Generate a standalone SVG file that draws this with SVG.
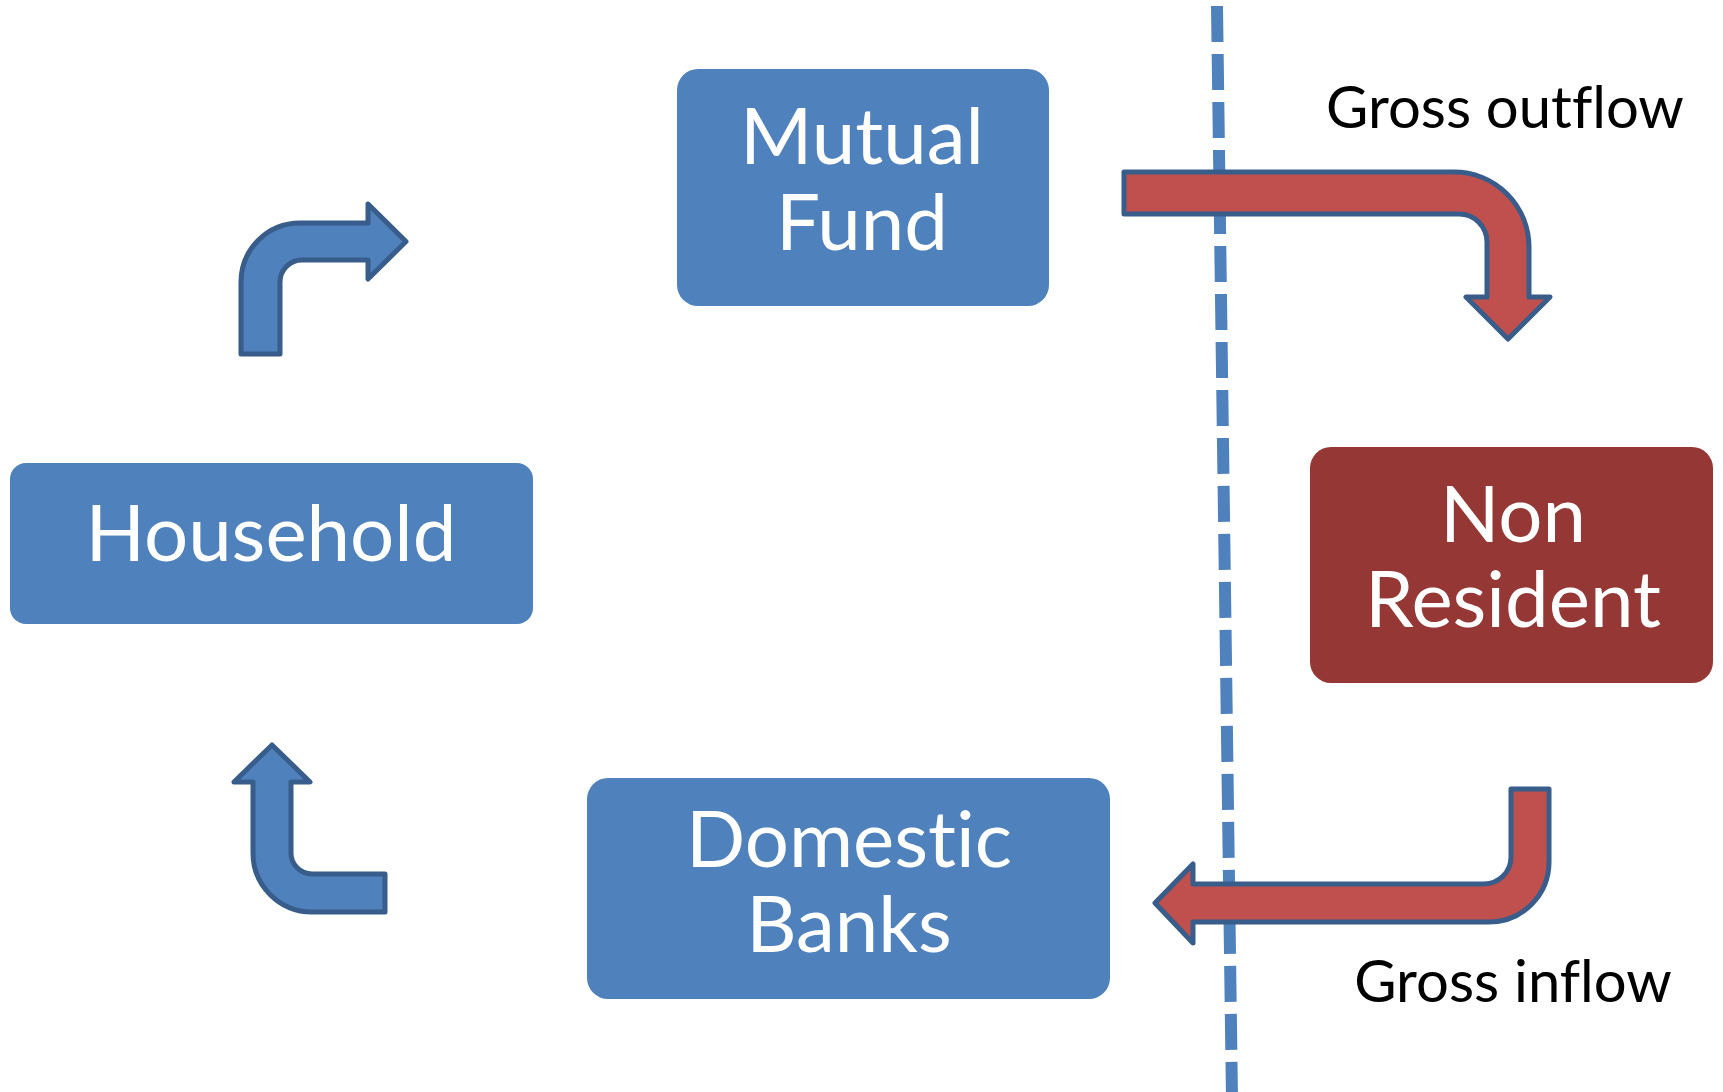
<svg xmlns="http://www.w3.org/2000/svg" width="1723" height="1092" viewBox="0 0 1723 1092">
  <style>
    .box-blue { fill: #4F81BD; }
    .box-red { fill: #953735; }
    .node-text { font-family: Lato, "Open Sans", "DejaVu Sans", sans-serif; font-size: 78px; fill: #FFFFFF; text-anchor: middle; font-variant-ligatures: none; font-feature-settings: "liga" 0, "dlig" 0; }
    .label { font-family: Lato, "Open Sans", "DejaVu Sans", sans-serif; font-size: 58px; fill: #000000; text-anchor: middle; font-variant-ligatures: none; font-feature-settings: "liga" 0, "dlig" 0; }
    .arrow-blue { fill: #4F81BD; stroke: #385D8A; stroke-width: 5; stroke-linejoin: round; }
    .arrow-red { fill: #C0504D; stroke: #385D8A; stroke-width: 5; stroke-linejoin: round; }
    .border { stroke: #4F81BD; stroke-width: 12; stroke-dasharray: 36 12; fill: none; }
  </style>
  <rect width="1723" height="1092" fill="#FFFFFF"/>

  <!-- residency border -->
  <line class="border" x1="1217" y1="6" x2="1232" y2="1100"/>

  <g id="mutual-fund">
    <rect class="box-blue" x="677" y="69" width="372" height="237" rx="21"/>
    <text class="node-text" x="862" y="164">Mutual</text>
    <text class="node-text" x="862" y="250">Fund</text>
  </g>

  <g id="household">
    <rect class="box-blue" x="10" y="463" width="523" height="161" rx="16"/>
    <text class="node-text" x="271" y="561">Household</text>
  </g>

  <g id="domestic-banks">
    <rect class="box-blue" x="587" y="778" width="523" height="221" rx="21"/>
    <text class="node-text" x="849" y="867">Domestic</text>
    <text class="node-text" x="849" y="952">Banks</text>
  </g>

  <g id="non-resident">
    <rect class="box-red" x="1310" y="447" width="403" height="236" rx="21"/>
    <text class="node-text" x="1513" y="542">Non</text>
    <text class="node-text" x="1513" y="627">Resident</text>
  </g>

  <g id="connectors">
    <!-- household to mutual fund -->
    <path class="arrow-blue" d="M241,354 L241,282 A59,59 0 0 1 300,223 L368,223 L368,204 L406,241.5 L368,279 L368,260 L302,260 A22,22 0 0 0 280,282 L280,354 Z"/>
    <!-- domestic banks to household -->
    <path class="arrow-blue" d="M272,745 L310,782 L291,782 L291,853 A21,21 0 0 0 312,874 L385,874 L385,912 L312,912 A59,59 0 0 1 253,853 L253,782 L234,782 Z"/>
    <!-- gross outflow -->
    <path class="arrow-red" d="M1124,172 L1454,172 A75,75 0 0 1 1529,247 L1529,297 L1550,297 L1508,339 L1466,297 L1487,297 L1487,242 A28,28 0 0 0 1459,214 L1124,214 Z"/>
    <!-- gross inflow -->
    <path class="arrow-red" d="M1511,789 L1549,789 L1549,862 A60,60 0 0 1 1489,922 L1193,922 L1193,943 L1155,903 L1193,864 L1193,884 L1484,884 A27,27 0 0 0 1511,857 Z"/>
  </g>

  <g id="labels">
    <text class="label" x="1505" y="128">Gross outflow</text>
    <text class="label" x="1513" y="1002">Gross inflow</text>
  </g>
</svg>
